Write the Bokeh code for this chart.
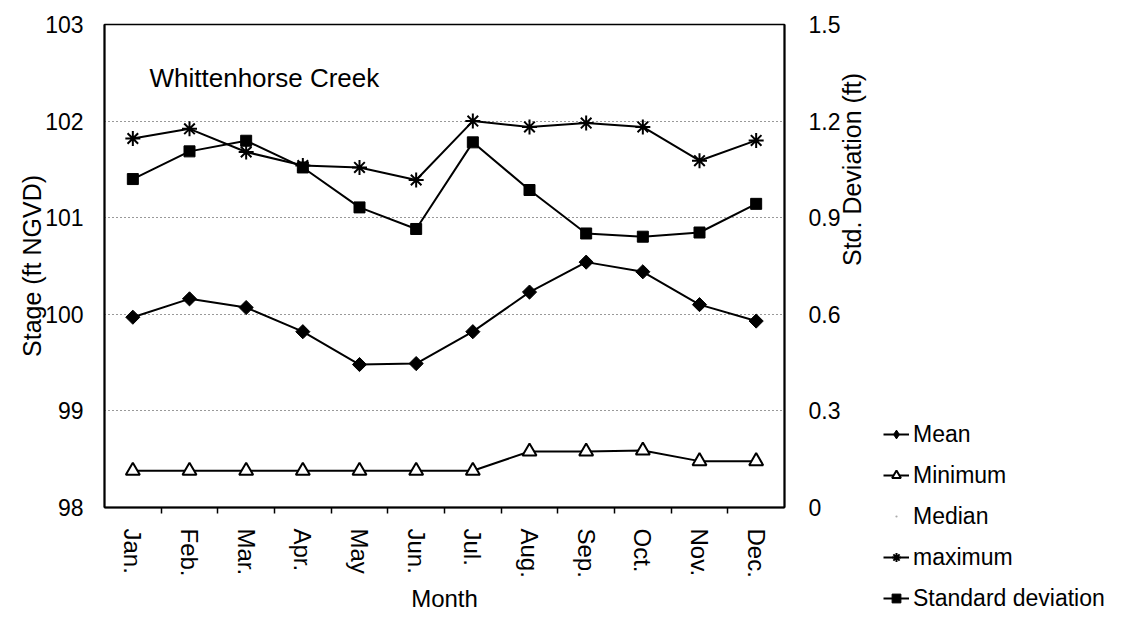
import numpy as np
from bokeh.plotting import figure
from bokeh.layouts import row
from bokeh.models import (Range1d, LinearAxis, FixedTicker, Legend, LegendItem,
                          Label, ColumnDataSource)
from bokeh.embed import file_html
from bokeh.resources import INLINE

# ---------------- data ----------------
months = ["Jan.", "Feb.", "Mar.", "Apr.", "May", "Jun.", "Jul.", "Aug.",
          "Sep.", "Oct.", "Nov.", "Dec."]
mean_stage = [99.97, 100.16, 100.07, 99.82, 99.48, 99.49, 99.82, 100.23,
              100.54, 100.44, 100.10, 99.93]
min_stage = [98.38, 98.38, 98.38, 98.38, 98.38, 98.38, 98.38, 98.58,
             98.58, 98.59, 98.48, 98.48]
median_stage = []  # not drawn in the original (legend entry only)
max_stage = [101.82, 101.92, 101.68, 101.54, 101.52, 101.39, 102.00, 101.94,
             101.98, 101.94, 101.59, 101.80]
std_dev = [1.020, 1.106, 1.139, 1.056, 0.932, 0.865, 1.134, 0.986,
           0.851, 0.841, 0.854, 0.943]

stage_ticks = [98, 99, 100, 101, 102, 103]
sd_ticks = [0, 0.3, 0.6, 0.9, 1.2, 1.5]
grid_ticks = [99, 100, 101, 102]
legend_labels = ["Mean", "Minimum", "Median", "maximum", "Standard deviation"]
legend_cols = ["mean", "mn", "mean", "mx", "sd"]

FONT = "Liberation Sans"
LW = 2

# marker styles per series (shared by plot and legend)
STYLES = {
    "Mean": dict(marker="square", angle=np.pi / 4, size=10,
                 fill_color="black", line_color="black"),
    "Minimum": dict(marker="triangle", size=14, fill_color="white",
                    line_color="black", line_width=2),
    "Median": dict(marker="dot", size=6, fill_color="#aaaaaa",
                   line_color="#aaaaaa"),
    "maximum": dict(marker="asterisk", size=15, line_color="black",
                    line_width=2),
    "Standard deviation": dict(marker="square", size=11, fill_color="black",
                               line_color="black"),
}
LEGEND_STYLES = dict(STYLES)
LEGEND_STYLES["Mean"] = dict(marker="diamond", size=14, fill_color="black",
                             line_color="black")

xpos = list(range(len(months)))
src = ColumnDataSource(dict(x=xpos, mean=mean_stage, mn=min_stage,
                            mx=max_stage, sd=std_dev))

# ---------------- main figure ----------------
p = figure(width=883, height=617, output_backend="svg", toolbar_location=None,
           x_range=Range1d(-0.5, len(months) - 0.5), y_range=Range1d(98, 103),
           min_border_left=104, min_border_right=97, min_border_top=24,
           min_border_bottom=110)
p.extra_y_ranges = {"sd": Range1d(0, 1.5)}
p.background_fill_color = "white"
p.border_fill_color = "white"
p.outline_line_color = "black"
p.outline_line_width = 1.5
p.frame_align = False

# x axis
xa = p.xaxis[0]
xa.ticker = FixedTicker(ticks=xpos, minor_ticks=[i + 0.5 for i in xpos[:-1]])
xa.major_label_overrides = {i: m for i, m in zip(xpos, months)}
xa.major_label_orientation = "vertical"
xa.major_tick_out = 0
xa.major_tick_in = 0
xa.minor_tick_out = 6
xa.minor_tick_in = 0
xa.minor_tick_line_color = "black"
xa.minor_tick_line_width = 1.5
xa.major_label_standoff = 15
xa.major_label_text_font = FONT
xa.major_label_text_font_size = "24px"
xa.major_label_text_color = "black"
xa.axis_label = "Month"
xa.axis_label_text_font = FONT
xa.axis_label_text_font_size = "24px"
xa.axis_label_text_font_style = "normal"
xa.axis_label_text_color = "black"
xa.axis_label_standoff = 4
xa.axis_line_width = 2

# left axis
ya = p.yaxis[0]
ya.ticker = FixedTicker(ticks=stage_ticks)
ya.major_tick_out = 0
ya.major_tick_in = 0
ya.minor_tick_out = 0
ya.minor_tick_in = 0
ya.major_label_standoff = 21
ya.major_label_text_font = FONT
ya.major_label_text_font_size = "23px"
ya.major_label_text_color = "black"
ya.axis_label = "Stage (ft NGVD)"
ya.axis_label_text_font = FONT
ya.axis_label_text_font_size = "25px"
ya.axis_label_text_font_style = "normal"
ya.axis_label_text_color = "black"
ya.axis_label_standoff = -4
ya.axis_line_width = 2

# right axis
ra = LinearAxis(y_range_name="sd", ticker=FixedTicker(ticks=sd_ticks))
ra.major_label_overrides = {0: "0"}
ra.major_tick_out = 0
ra.major_tick_in = 0
ra.minor_tick_out = 0
ra.minor_tick_in = 0
ra.major_label_standoff = 24
ra.major_label_text_font = FONT
ra.major_label_text_font_size = "23px"
ra.major_label_text_color = "black"
ra.axis_label = "Std. Deviation (ft)"
ra.axis_label_orientation = np.pi / 2
ra.axis_label_text_font = FONT
ra.axis_label_text_font_size = "25px"
ra.axis_label_text_font_style = "normal"
ra.axis_label_text_color = "black"
ra.axis_label_standoff = 9
ra.axis_line_width = 2
p.add_layout(ra, "right")

# grid
p.xgrid.visible = False
p.ygrid.ticker = FixedTicker(ticks=grid_ticks)
p.ygrid.grid_line_color = "#333333"
p.ygrid.grid_line_dash = "1 3"
p.ygrid.grid_line_width = 1.2

# series
p.line("x", "mean", source=src, line_color="black", line_width=LW)
p.scatter("x", "mean", source=src, **STYLES["Mean"])

p.line("x", "mn", source=src, line_color="black", line_width=LW)
p.scatter("x", "mn", source=src, **STYLES["Minimum"])

med_src = ColumnDataSource(dict(x=list(range(len(median_stage))), y=median_stage))
p.scatter("x", "y", source=med_src, **STYLES["Median"])

p.line("x", "mx", source=src, line_color="black", line_width=LW)
p.scatter("x", "mx", source=src, **STYLES["maximum"])

p.line("x", "sd", source=src, line_color="black", line_width=LW,
       y_range_name="sd")
p.scatter("x", "sd", source=src, y_range_name="sd",
          **STYLES["Standard deviation"])

# title inside plot
p.add_layout(Label(x=45, y=430, x_units="screen", y_units="screen",
                   text="Whittenhorse Creek", text_font=FONT,
                   text_font_size="26px", text_color="black",
                   text_baseline="alphabetic"))

# ---------------- legend panel (separate figure to the right) ----------------
# its ranges lie outside the data, so its renderers only serve as legend swatches
pl = figure(width=246, height=617, output_backend="svg", toolbar_location=None,
            x_range=Range1d(100, 101), y_range=Range1d(100, 101),
            x_axis_type=None, y_axis_type=None,
            min_border_left=0, min_border_right=0, min_border_top=0,
            min_border_bottom=0)
pl.frame_align = False
pl.outline_line_color = None
pl.background_fill_color = "white"
pl.border_fill_color = "white"
pl.xgrid.visible = False
pl.ygrid.visible = False

items = []
for lab, col in zip(legend_labels, legend_cols):
    rs = []
    if lab != "Median":
        rs.append(pl.line("x", col, source=src, line_color="black",
                          line_width=LW))
    rs.append(pl.scatter("x", col, source=src, **LEGEND_STYLES[lab]))
    items.append(LegendItem(label=lab, renderers=rs))

legend = Legend(items=items, location=(0, 5.5), glyph_width=26,
                glyph_height=22, label_standoff=4, spacing=14, padding=0,
                margin=0, border_line_alpha=0, background_fill_alpha=0,
                label_text_font=FONT, label_text_font_size="23px",
                label_text_color="black")
pl.add_layout(legend)

layout = row(p, pl)
open("out.html", "w").write(file_html(layout, INLINE))
